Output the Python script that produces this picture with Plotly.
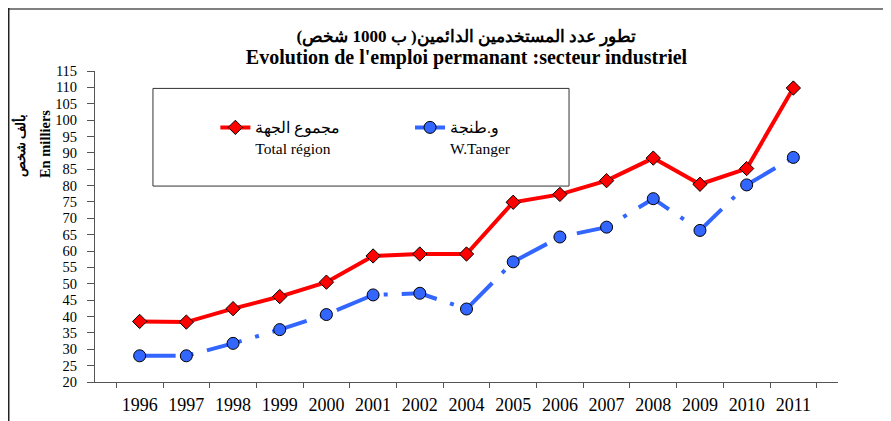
import plotly.graph_objects as go

_FONT = "Liberation Serif, Times New Roman, serif"

years = ["1996", "1997", "1998", "1999", "2000", "2001", "2002", "2004",
         "2005", "2006", "2007", "2008", "2009", "2010", "2011"]
total_region = [38.5, 38.3, 42.4, 46.1, 50.5, 58.5, 59.1, 59.1,
                74.9, 77.3, 81.5, 88.4, 80.4, 85.2, 109.8]
w_tanger = [28.0, 28.0, 31.8, 36.0, 40.6, 46.6, 47.1, 42.3,
            56.7, 64.3, 67.3, 76.0, 66.3, 80.2, 88.6]

RED = "#ff0000"
BLUE = "#3366ff"

fig = go.Figure()
fig.add_trace(
    go.Scatter(
        x=years,
        y=total_region,
        mode="lines+markers",
        name="مجموع الجهة<br>Total région",
        line=dict(color=RED, width=4),
        marker=dict(symbol="diamond", size=11, color=RED,
                    line=dict(color="#000000", width=1)),
        legend="legend",
    )
)
fig.add_trace(
    go.Scatter(
        x=years,
        y=w_tanger,
        mode="lines+markers",
        name="و.طنجة<br>W.Tanger",
        line=dict(color=BLUE, width=4, dash="36px,14px,4px,14px"),
        marker=dict(symbol="circle", size=12, color=BLUE,
                    line=dict(color="#000000", width=1)),
        legend="legend2",
    )
)

# the page adds an 8px body margin, so the figure is a bit smaller
fig.update_layout(
    width=883,
    height=413,
    paper_bgcolor="white",
    plot_bgcolor="white",
    font=dict(family=_FONT, color="#000000", size=15),
    margin=dict(l=87, r=53, t=63, b=39, autoexpand=False),
    title=dict(
        text="<b>تطور عدد المستخدمين الدائمين( ب 1000 شخص)<br>"
             "<span style='font-size:20px'>Evolution de l'emploi permanant "
             ":secteur industriel</span></b>",
        x=0.5,
        xref="paper",
        y=1 - 34 / 413,
        yref="container",
        yanchor="top",
        xanchor="center",
        font=dict(family=_FONT, size=17, color="#000000"),
    ),
    showlegend=True,
    legend=dict(
        x=0.162, y=0.872, xanchor="left", yanchor="top",
        bgcolor="rgba(0,0,0,0)", borderwidth=0, valign="top",
        font=dict(family=_FONT, size=15.5),
    ),
    legend2=dict(
        x=0.424, y=0.872, xanchor="left", yanchor="top",
        bgcolor="rgba(0,0,0,0)", borderwidth=0, valign="top",
        font=dict(family=_FONT, size=15.5),
    ),
)

fig.update_xaxes(
    type="category",
    showline=True,
    linecolor="#555555",
    linewidth=1,
    ticks="outside",
    tickson="boundaries",
    ticklen=5,
    tickcolor="#555555",
    ticklabelstandoff=6,
    showgrid=False,
    tickfont=dict(family=_FONT, size=18, color="#000000"),
)
fig.update_yaxes(
    range=[20, 115],
    dtick=5,
    showline=True,
    linecolor="#555555",
    linewidth=1,
    ticks="outside",
    ticklen=7,
    tickcolor="#555555",
    ticklabelstandoff=7,
    showgrid=False,
    zeroline=False,
    tickfont=dict(family=_FONT, size=14.5, color="#000000"),
)

# y-axis title, one annotation per line
fig.add_annotation(
    text="<b>بألف شخص</b>",
    x=-0.1009, y=0.759, xref="paper", yref="paper",
    xanchor="center", yanchor="middle",
    textangle=-90, showarrow=False,
    font=dict(family=_FONT, size=13, color="#000000"),
)
fig.add_annotation(
    text="<b>En milliers</b>",
    x=-0.0673, y=0.765, xref="paper", yref="paper",
    xanchor="center", yanchor="middle",
    textangle=-90, showarrow=False,
    font=dict(family=_FONT, size=14.5, color="#000000"),
)

# legend box and outer frame
fig.add_shape(type="rect", xref="paper", yref="paper",
              x0=0.078, x1=0.638, y0=0.630, y1=0.944,
              line=dict(color="#333333", width=1))
fig.add_shape(type="line", xref="paper", yref="paper",
              x0=-0.117, x1=1.075, y0=1.1994, y1=1.1994,
              line=dict(color="#808080", width=2))
fig.add_shape(type="line", xref="paper", yref="paper",
              x0=-0.1161, x1=-0.1161, y0=1.205, y1=-0.13,
              line=dict(color="#222222", width=1.5))

fig.write_html("out.html")
